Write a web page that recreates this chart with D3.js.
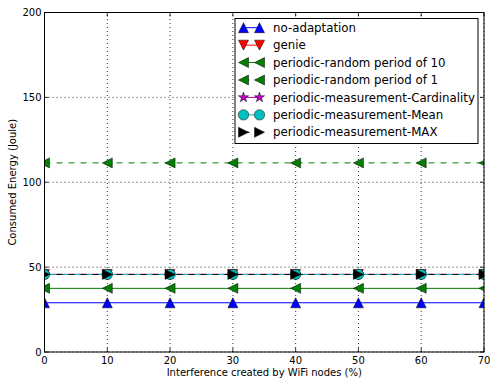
<!DOCTYPE html>
<html>
<head>
<meta charset="utf-8">
<script src="https://cdn.jsdelivr.net/npm/d3@7"></script>
<style>
  body { margin: 0; background: #fff; }
  text { font-family: "DejaVu Sans", sans-serif; }
</style>
</head>
<body>
<svg id="chart" width="490" height="385"></svg>
<script>
var interference = [0, 10, 20, 30, 40, 50, 60, 70];

var no_adaptation = [29.0, 29.0, 29.0, 29.0, 29.0, 29.0, 29.0, 29.0];
var genie = [45.7, 45.7, 45.7, 45.7, 45.7, 45.7, 45.7, 45.7];
var random_period_10 = [37.5, 37.5, 37.5, 37.5, 37.5, 37.5, 37.5, 37.5];
var random_period_1 = [111.4, 111.4, 111.4, 111.4, 111.4, 111.4, 111.4, 111.4];
var measurement_cardinality = [45.7, 45.7, 45.7, 45.7, 45.7, 45.7, 45.7, 45.7];
var measurement_mean = [45.7, 45.7, 45.7, 45.7, 45.7, 45.7, 45.7, 45.7];
var measurement_max = [45.7, 45.7, 45.7, 45.7, 45.7, 45.7, 45.7, 45.7];

var x_ticks = [0, 10, 20, 30, 40, 50, 60, 70];
var y_ticks = [0, 50, 100, 150, 200];

var series = [
  { name: "no-adaptation", values: no_adaptation, color: "#0000ff", marker: "up", dash: null },
  { name: "genie", values: genie, color: "#ff0000", marker: "down", dash: null },
  { name: "periodic-random period of 10", values: random_period_10, color: "#008000", marker: "left", dash: null },
  { name: "periodic-random period of 1", values: random_period_1, color: "#008000", marker: "left", dash: "6,6" },
  { name: "periodic-measurement-Cardinality", values: measurement_cardinality, color: "#bf00bf", marker: "star", dash: null },
  { name: "periodic-measurement-Mean", values: measurement_mean, color: "#00bfbf", marker: "circle", dash: null },
  { name: "periodic-measurement-MAX", values: measurement_max, color: "#000000", marker: "right", dash: "6,6" }
];

var margin = { left: 44.5, right: 6, top: 12.5, bottom: 33 };
var width = 490, height = 385;

var svg = d3.select('#chart');

var x = d3.scaleLinear().domain([0, 70]).range([margin.left, width - margin.right]);
var y = d3.scaleLinear().domain([0, 200]).range([height - margin.bottom, margin.top]);

// marker paths
function marker_path(type) {
  var s = 5;
  if (type == "up") return "M0," + (-s) + "L" + s + "," + s + "L" + (-s) + "," + s + "Z";
  if (type == "down") return "M0," + s + "L" + s + "," + (-s) + "L" + (-s) + "," + (-s) + "Z";
  if (type == "left") return "M" + (-s) + ",0L" + s + "," + (-s) + "L" + s + "," + s + "Z";
  if (type == "right") return "M" + s + ",0L" + (-s) + "," + (-s) + "L" + (-s) + "," + s + "Z";
  if (type == "star") return d3.symbol().type(d3.symbolStar).size(32)();
  return d3.symbol().type(d3.symbolCircle).size(Math.PI * 27)();
}

// grid
var grid = svg.append('g');
x_ticks.forEach(function (t) {
  grid.append('line').attr('x1', x(t)).attr('x2', x(t)).attr('y1', y(0)).attr('y2', y(200))
    .attr('stroke', '#000').attr('stroke-width', 0.8).attr('stroke-dasharray', '1,3');
});
y_ticks.forEach(function (t) {
  grid.append('line').attr('x1', x(0)).attr('x2', x(70)).attr('y1', y(t)).attr('y2', y(t))
    .attr('stroke', '#000').attr('stroke-width', 0.8).attr('stroke-dasharray', '1,3');
});

// series
svg.append('clipPath').attr('id', 'plotclip').append('rect')
  .attr('x', x(0)).attr('y', y(200)).attr('width', x(70) - x(0)).attr('height', y(0) - y(200));

var line = d3.line().x(function (d, i) { return x(interference[i]); }).y(function (d) { return y(d); });

series.forEach(function (s) {
  var g = svg.append('g').attr('clip-path', 'url(#plotclip)');
  g.append('path').datum(s.values).attr('d', line)
    .attr('fill', 'none').attr('stroke', s.color).attr('stroke-width', 1)
    .attr('stroke-dasharray', s.dash);
  g.selectAll('path.m').data(s.values).enter().append('path').attr('class', 'm')
    .attr('d', marker_path(s.marker))
    .attr('transform', function (d, i) { return 'translate(' + x(interference[i]) + ',' + y(d) + ')'; })
    .attr('fill', s.color).attr('stroke', '#000').attr('stroke-width', 0.5);
});

// frame
svg.append('rect').attr('x', x(0)).attr('y', y(200)).attr('width', x(70) - x(0)).attr('height', y(0) - y(200))
  .attr('fill', 'none').attr('stroke', '#000').attr('stroke-width', 1);

// ticks inward, all four sides
var ticks = svg.append('g').attr('stroke', '#000').attr('stroke-width', 0.8);
x_ticks.forEach(function (t) {
  ticks.append('line').attr('x1', x(t)).attr('x2', x(t)).attr('y1', y(0)).attr('y2', y(0) - 4);
  ticks.append('line').attr('x1', x(t)).attr('x2', x(t)).attr('y1', y(200)).attr('y2', y(200) + 4);
});
y_ticks.forEach(function (t) {
  ticks.append('line').attr('x1', x(0)).attr('x2', x(0) + 4).attr('y1', y(t)).attr('y2', y(t));
  ticks.append('line').attr('x1', x(70)).attr('x2', x(70) - 4).attr('y1', y(t)).attr('y2', y(t));
});

// tick labels
svg.append('g').selectAll('text').data(x_ticks).enter().append('text')
  .attr('x', function (d) { return x(d); }).attr('y', y(0) + 11.5)
  .attr('text-anchor', 'middle').attr('font-size', 10).text(function (d) { return d; });
svg.append('g').selectAll('text').data(y_ticks).enter().append('text')
  .attr('x', x(0) - 3).attr('y', function (d) { return y(d) + 3.7; })
  .attr('text-anchor', 'end').attr('font-size', 10).text(function (d) { return d; });

// axis labels
svg.append('text').attr('x', (x(0) + x(70)) / 2).attr('y', 376).attr('text-anchor', 'middle')
  .attr('font-size', 10).text('Interference created by WiFi nodes (%)');
svg.append('text').attr('transform', 'translate(16,' + ((y(0) + y(200)) / 2) + ') rotate(-90)')
  .attr('text-anchor', 'middle').attr('font-size', 10).text('Consumed Energy (Joule)');

// legend
var legend = svg.append('g');
legend.append('rect').attr('x', 235).attr('y', 18.5).attr('width', 243).attr('height', 125)
  .attr('fill', '#fff').attr('stroke', '#000').attr('stroke-width', 1);
series.forEach(function (s, i) {
  var ly = 27.7 + i * 17.43;
  legend.append('line').attr('x1', 243.5).attr('x2', 259.5).attr('y1', ly).attr('y2', ly)
    .attr('stroke', s.color).attr('stroke-width', 1).attr('stroke-dasharray', s.dash);
  [243.5, 259.5].forEach(function (mx) {
    legend.append('path').attr('d', marker_path(s.marker))
      .attr('transform', 'translate(' + mx + ',' + ly + ')')
      .attr('fill', s.color).attr('stroke', '#000').attr('stroke-width', 0.5);
  });
  legend.append('text').attr('x', 273).attr('y', ly + 4.2).attr('font-size', 11.8).text(s.name);
});
</script>
</body>
</html>
